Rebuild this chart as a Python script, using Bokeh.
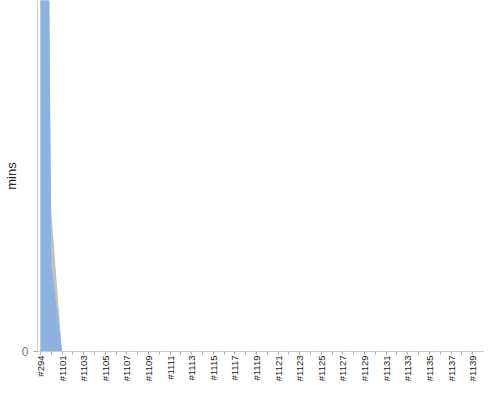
import math
from bokeh.plotting import figure
from bokeh.models import Range1d, FixedTicker
from bokeh.embed import file_html
from bokeh.resources import INLINE

builds = ["#294", "#1100"] + ["#%d" % n for n in range(1101, 1140)]
time_mins = [99.0, 5.0] + [0.0] * 39
avg_mins = [60.0, 8.0] + [0.0] * 39
y_max = 20.0

idx = list(range(len(builds)))

p = figure(width=484, height=384, output_backend="svg", toolbar_location=None,
           x_range=Range1d(-0.27, 41.1), y_range=Range1d(0, y_max),
           min_border_left=31, min_border_right=0, min_border_top=0, min_border_bottom=0)
p.outline_line_color = None
p.xgrid.visible = False
p.ygrid.visible = False
p.background_fill_color = "white"

p.varea(x=idx, y1=[0] * len(idx), y2=avg_mins, fill_color="#c0c0c0")
p.varea(x=idx, y1=[0] * len(idx), y2=time_mins, fill_color="#8eb2de")

xa = p.xaxis[0]
xa.ticker = FixedTicker(ticks=idx)
xa.major_label_overrides = {i: (b if i % 2 == 0 else "") for i, b in enumerate(builds)}
xa.major_label_orientation = math.pi / 2
xa.major_label_text_font = "Liberation Sans"
xa.major_label_text_font_size = "9.5px"
xa.major_label_text_color = "#222222"
xa.major_label_standoff = 1
xa.axis_line_color = "#cccccc"
xa.major_tick_line_color = "#aaaaaa"
xa.major_tick_in = 0
xa.major_tick_out = 3
xa.minor_tick_line_color = None

ya = p.yaxis[0]
ya.ticker = FixedTicker(ticks=[0])
ya.axis_label = "mins"
ya.axis_label_text_font = "Liberation Sans"
ya.axis_label_text_font_size = "13px"
ya.axis_label_text_font_style = "normal"
ya.axis_label_text_color = "#222222"
ya.axis_label_standoff = 0
ya.major_label_text_font = "Liberation Sans"
ya.major_label_text_font_size = "12px"
ya.major_label_text_color = "#777777"
ya.major_label_standoff = 5
ya.axis_line_color = "#cccccc"
ya.major_tick_line_color = "#aaaaaa"
ya.major_tick_in = 0
ya.major_tick_out = 4
ya.minor_tick_line_color = None

open("out.html", "w").write(file_html(p, INLINE))
